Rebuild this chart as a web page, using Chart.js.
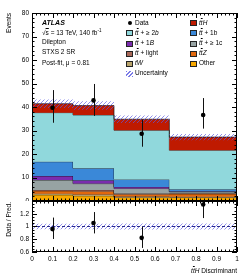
<!DOCTYPE html>
<html><head><meta charset="utf-8">
<script src="https://cdn.jsdelivr.net/npm/chart.js@4/dist/chart.umd.min.js"></script>
<style>
html,body{margin:0;padding:0;background:#fff;}
body{width:249px;height:279px;overflow:hidden;position:relative;font-family:"Liberation Sans",Arial,sans-serif;color:#000;}
#mainBox{position:absolute;left:0;top:0;width:249px;height:201px;}
#ratioBox{position:absolute;left:0;top:190px;width:249px;height:89px;}
.t{position:absolute;font-size:6.5px;line-height:1;white-space:nowrap;}
.ol{text-decoration:overline;}
.sw{position:absolute;width:7px;height:6px;border:0.8px solid #222;box-sizing:border-box;}
.vt{position:absolute;writing-mode:vertical-rl;transform:rotate(180deg);font-size:6.5px;line-height:1;white-space:nowrap;}
</style>
</head><body>
<div id="mainBox"><canvas id="main"></canvas></div>
<div id="ratioBox"><canvas id="ratio"></canvas></div>

<div class="vt" style="left:6px;top:13px;">Events</div>
<div class="vt" style="left:6px;top:202px;">Data / Pred.</div>

<div class="t" style="left:42px;top:19px;font-weight:bold;font-style:italic;font-size:7px;">ATLAS</div>
<div class="t" style="left:42px;top:28.5px;">√<span class="ol">s</span> = 13 TeV, 140 fb<sup style="font-size:4.5px;vertical-align:3px">-1</sup></div>
<div class="t" style="left:42px;top:39px;">Dilepton</div>
<div class="t" style="left:42px;top:49px;">STXS 2 SR</div>
<div class="t" style="left:42px;top:59.5px;">Post-fit, μ = 0.81</div>

<div id="legend"></div>

<div class="t" style="right:12px;top:268px;"><i>t<span class="ol">t</span>H</i> Discriminant</div>

<script>
// ---------------- data ----------------
const binEdges = [0, 0.2, 0.4, 0.67, 1.0];
const xTickLabels = ['0','0.1','0.2','0.3','0.4','0.5','0.6','0.7','0.8','0.9','1'];
const yTickLabels = ['0','10','20','30','40','50','60','70','80'];
const ratioTickLabels = ['0.6','0.8','1','1.2',''];

// stacked processes, bottom to top
const other   = [2.6, 2.2, 1.5, 1.5];
const tW      = [0.5, 0.6, 0.4, 0.3];
const ttZ     = [1.2, 1.4, 1.0, 1.2];
const ttLight = [0.4, 0.5, 0.3, 0.3];
const tt1c    = [4.2, 2.7, 2.1, 0.6];
const tt1B    = [1.7, 1.4, 0.7, 0.2];
const tt1b    = [6.1, 5.1, 3.2, 0.9];
const tt2b    = [20.9, 22.7, 20.9, 16.6];
const ttH     = [3.8, 4.0, 4.7, 5.6];
const totalUnc = [1.8, 1.8, 1.6, 1.3];

const dataX = [0.1, 0.3, 0.535, 0.835];
const dataY = [39.7, 42.8, 28.6, 36.6];
const dataErrUp = [7.5, 7.0, 6.0, 7.2];
const dataErrDown = [6.4, 6.6, 5.5, 5.8];

// ---------------- styles ----------------
const layers = [
  {vals: other,   color: '#f7a800'},
  {vals: tW,      color: '#b9a46c'},
  {vals: ttZ,     color: '#e2680e'},
  {vals: ttLight, color: '#a86858'},
  {vals: tt1c,    color: '#97a3a3'},
  {vals: tt1B,    color: '#7a2cae'},
  {vals: tt1b,    color: '#3a88d8'},
  {vals: tt2b,    color: '#90d8dc'},
  {vals: ttH,     color: '#bf1a00'}
];

function hatch(){
  const c = document.createElement('canvas'); c.width = 4; c.height = 4;
  const g = c.getContext('2d');
  g.strokeStyle = 'rgba(90,90,225,0.85)'; g.lineWidth = 0.8;
  g.beginPath(); g.moveTo(-1,5); g.lineTo(5,-1); g.stroke();
  g.beginPath(); g.moveTo(-1,1); g.lineTo(1,-1); g.stroke();
  g.beginPath(); g.moveTo(3,5); g.lineTo(5,3); g.stroke();
  return g.createPattern(c, 'repeat');
}
const pat = hatch();

Chart.defaults.font.family = '"Liberation Sans", Arial, sans-serif';
Chart.defaults.font.size = 6.5;
Chart.defaults.color = '#000';
Chart.defaults.animation = false;

function stepPts(vals){ return binEdges.map((e,j)=>({x:e, y: vals[Math.min(j, vals.length-1)]})); }

// cumulative sums
const cum = [];
layers.forEach((L,i)=>{ cum.push(L.vals.map((v,j)=> v + (i ? cum[i-1][j] : 0))); });
const total = cum[cum.length-1];

const frameTicks = {
  id: 'frameTicks',
  afterDraw(chart, args, o){
    const {ctx, chartArea:a, scales:{x, y}} = chart;
    ctx.save();
    ctx.strokeStyle = '#000'; ctx.lineWidth = 1;
    ctx.strokeRect(Math.round(a.left)+0.5, Math.round(a.top)+0.5, Math.round(a.right-a.left)-1, Math.round(a.bottom-a.top)-1);
    ctx.beginPath();
    const nx = Math.round((o.xMax-o.xMin)/o.xMinor), rx = Math.round(o.xMajor/o.xMinor);
    for(let k=0;k<=nx;k++){
      const px = Math.round(x.getPixelForValue(o.xMin + k*o.xMinor)) + 0.5;
      const len = (k % rx === 0) ? o.major : o.minor;
      ctx.moveTo(px, a.bottom); ctx.lineTo(px, a.bottom-len);
      ctx.moveTo(px, a.top); ctx.lineTo(px, a.top+len);
    }
    const ny = Math.round((o.yMax-o.yMin)/o.yMinor), ry = Math.round(o.yMajor/o.yMinor);
    for(let k=0;k<=ny;k++){
      const py = Math.round(y.getPixelForValue(o.yMin + k*o.yMinor)) + 0.5;
      const len = (k % ry === 0) ? o.major : o.minor;
      ctx.moveTo(a.left, py); ctx.lineTo(a.left+len, py);
      ctx.moveTo(a.right, py); ctx.lineTo(a.right-len, py);
    }
    ctx.stroke();
    ctx.restore();
  }
};

const errBars = {
  id: 'errBars',
  afterDatasetsDraw(chart, args, o){
    const {ctx, chartArea:a, scales:{x, y}} = chart;
    ctx.save();
    ctx.beginPath(); ctx.rect(a.left, a.top, a.right-a.left, a.bottom-a.top); ctx.clip();
    ctx.strokeStyle = '#111'; ctx.lineWidth = 1;
    ctx.beginPath();
    o.xs.forEach((xv,i)=>{
      const px = Math.round(x.getPixelForValue(xv)) + 0.5;
      ctx.moveTo(px, y.getPixelForValue(o.ys[i] + o.up[i]));
      ctx.lineTo(px, y.getPixelForValue(o.ys[i] - o.down[i]));
    });
    ctx.stroke();
    ctx.fillStyle = '#000';
    o.xs.forEach((xv,i)=>{
      ctx.beginPath();
      ctx.arc(x.getPixelForValue(xv), y.getPixelForValue(o.ys[i]), 2.3, 0, Math.PI*2);
      ctx.fill();
    });
    ctx.restore();
  }
};

function noPadY(s){ s.width = yAxisW; s.paddingTop = 0; s.paddingBottom = 0; }

// ---------------- main panel ----------------
const mainSets = layers.map((L,i)=>({
  type: 'line',
  data: stepPts(cum[i]),
  stepped: true,
  backgroundColor: L.color,
  borderColor: 'rgba(20,20,20,0.75)',
  borderWidth: 0.9,
  pointRadius: 0,
  fill: i === 0 ? 'origin' : '-1',
  order: 10 + (layers.length - i)
}));
mainSets.push({
  type:'line', data: stepPts(total.map((t,j)=>t-totalUnc[j])), stepped:true,
  borderWidth:0, borderColor:'rgba(0,0,0,0)', pointRadius:0, fill:false, order:2
});
mainSets.push({
  type:'line', data: stepPts(total.map((t,j)=>t+totalUnc[j])), stepped:true,
  borderWidth:0, borderColor:'rgba(0,0,0,0)', backgroundColor: pat, pointRadius:0, fill:'-1', order:1
});

const yAxisW = 32;
new Chart(document.getElementById('main'), {
  type: 'line',
  data: { datasets: mainSets },
  options: {
    responsive: true, maintainAspectRatio: false,
    layout: { padding: { left: 0, right: 12, top: 13, bottom: 0 } },
    plugins: {
      legend: { display: false }, tooltip: { enabled: false },
      frameTicks: { xMin:0, xMax:1, xMajor:0.1, xMinor:0.02, yMin:0, yMax:80, yMajor:10, yMinor:2, major:5, minor:2.5 },
      errBars: { xs: dataX, ys: dataY, up: dataErrUp, down: dataErrDown }
    },
    scales: {
      x: { type:'linear', min:0, max:1, grid:{display:false}, border:{display:false},
           ticks:{display:false}, afterFit(s){ s.height = 0; s.paddingLeft = 0; s.paddingRight = 0; } },
      y: { type:'linear', min:0, max:80, grid:{display:false, drawTicks:false}, border:{display:false},
           ticks:{ stepSize:10, padding:3, callback:(v,i)=>yTickLabels[i] },
           afterFit: noPadY }
    }
  },
  plugins: [frameTicks, errBars]
});

// ---------------- ratio panel ----------------
const ratioY = dataY.map((d,i)=> d/total[i]);
const ratioUp = dataErrUp.map((e,i)=> e/total[i]);
const ratioDown = dataErrDown.map((e,i)=> e/total[i]);
const relUnc = totalUnc.map((u,i)=> u/total[i]);

new Chart(document.getElementById('ratio'), {
  type: 'line',
  data: { datasets: [
    { data: stepPts(relUnc.map(u=>1-u)), stepped:true, borderWidth:0, borderColor:'rgba(0,0,0,0)', pointRadius:0, fill:false, order:3 },
    { data: stepPts(relUnc.map(u=>1+u)), stepped:true, borderWidth:0, borderColor:'rgba(0,0,0,0)', backgroundColor: pat, pointRadius:0, fill:'-1', order:2 },
    { data: [{x:0,y:1},{x:1,y:1}], borderColor:'#2a2a8c', borderWidth:1, borderDash:[3,2], pointRadius:0, fill:false, order:1 }
  ]},
  options: {
    responsive: true, maintainAspectRatio: false,
    layout: { padding: { left: 0, right: 12, top: 11, bottom: 0 } },
    plugins: {
      legend: { display: false }, tooltip: { enabled: false },
      frameTicks: { xMin:0, xMax:1, xMajor:0.1, xMinor:0.02, yMin:0.6, yMax:1.4, yMajor:0.2, yMinor:0.05, major:5, minor:2.5 },
      errBars: { xs: dataX, ys: ratioY, up: ratioUp, down: ratioDown }
    },
    scales: {
      x: { type:'linear', min:0, max:1, grid:{display:false, drawTicks:false}, border:{display:false},
           ticks:{ stepSize:0.1, padding:3, maxRotation:0, autoSkip:false, callback:(v,i)=>xTickLabels[i] },
           afterFit(s){ s.height = 27; s.paddingLeft = 0; s.paddingRight = 0; } },
      y: { type:'linear', min:0.6, max:1.4, grid:{display:false, drawTicks:false}, border:{display:false},
           ticks:{ stepSize:0.2, padding:3, callback:(v,i)=>ratioTickLabels[i] },
           afterFit: noPadY }
    }
  },
  plugins: [frameTicks, errBars]
});

// ---------------- legend (HTML) ----------------
const legendCol1 = [
  {kind:'data', html:'Data'},
  {kind:'box', color: layers[7].color, html:'<i>t<span class="ol">t</span></i> + ≥ 2<i>b</i>'},
  {kind:'box', color: layers[5].color, html:'<i>t<span class="ol">t</span></i> + 1<i>B</i>'},
  {kind:'box', color: layers[3].color, html:'<i>t<span class="ol">t</span></i> + light'},
  {kind:'box', color: layers[1].color, html:'<i>tW</i>'},
  {kind:'hatch', html:'Uncertainty'}
];
const legendCol2 = [
  {kind:'box', color: layers[8].color, html:'<i>t<span class="ol">t</span>H</i>'},
  {kind:'box', color: layers[6].color, html:'<i>t<span class="ol">t</span></i> + 1b'},
  {kind:'box', color: layers[4].color, html:'<i>t<span class="ol">t</span></i> + ≥ 1c'},
  {kind:'box', color: layers[2].color, html:'<i>t<span class="ol">t</span>Z</i>'},
  {kind:'box', color: layers[0].color, html:'Other'}
];
const lg = document.getElementById('legend');
function addCol(items, x0){
  items.forEach((it,r)=>{
    const yc = 23.3 + r*10.1;
    if(it.kind === 'data'){
      const d = document.createElement('div');
      d.style.cssText = `position:absolute;left:${x0+2}px;top:${yc-2}px;width:4px;height:4px;border-radius:50%;background:#000;`;
      lg.appendChild(d);
    } else {
      const d = document.createElement('div');
      d.className = 'sw';
      d.style.left = x0 + 'px'; d.style.top = (yc-3) + 'px';
      if(it.kind === 'hatch'){
        d.style.border = 'none';
        d.style.background = 'repeating-linear-gradient(135deg, rgba(90,90,225,0.8) 0 0.8px, transparent 0.8px 2.8px)';
      } else d.style.background = it.color;
      lg.appendChild(d);
    }
    const t = document.createElement('div');
    t.className = 't';
    t.style.left = (x0 + 9) + 'px'; t.style.top = (yc - 3.4) + 'px';
    t.innerHTML = it.html;
    lg.appendChild(t);
  });
}
addCol(legendCol1, 126);
addCol(legendCol2, 190);
</script>
</body></html>
